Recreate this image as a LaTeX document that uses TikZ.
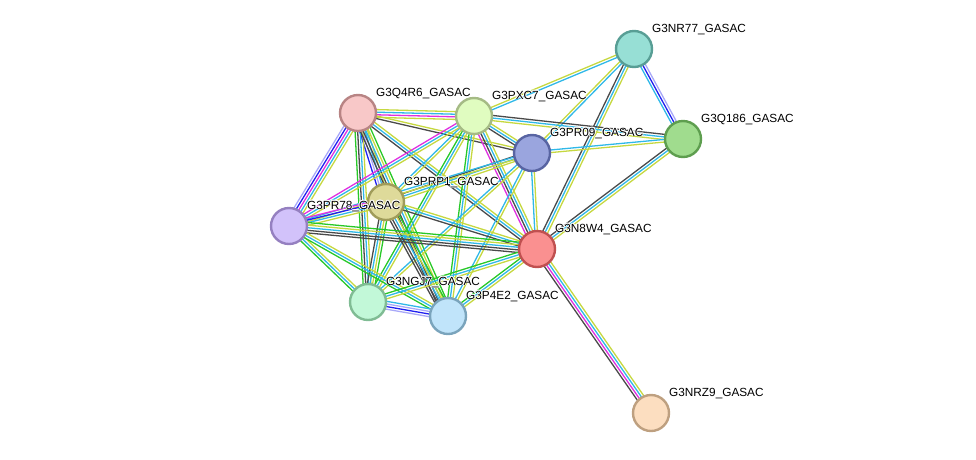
\documentclass[tikz,border=0pt]{standalone}
\usepackage{fontspec}
\setmainfont{Liberation Sans}
\usetikzlibrary{calc,backgrounds}
\definecolor{tm}{HTML}{C6D840}
\definecolor{db}{HTML}{30B8E8}
\definecolor{co}{HTML}{4A4A4A}
\definecolor{ex}{HTML}{E030E0}
\definecolor{nb}{HTML}{28C828}
\definecolor{cu}{HTML}{2020F0}
\definecolor{hm}{HTML}{A8A8F8}
\tikzset{
  prot/.style={circle, draw, line width=2.4pt, minimum size=36pt, inner sep=0pt},
  edgeline/.style={line width=1.3pt},
  lbl/.style={anchor=base west, inner sep=0pt, font=\fontsize{11.8}{13}\selectfont}
}
\newcommand{\stredge}[3]{%
  \gdef\nn{0}%
  \foreach \cc in {#3} {\xdef\nn{\the\numexpr\nn+1\relax}}%
  \foreach \cc [count=\ii] in {#3} {%
    \pgfmathsetmacro{\off}{(\ii-(\nn+1)/2)*2.6}%
    \draw[edgeline, \cc] ($(#1.center)!\off pt!90:(#2.center)$) -- ($(#2.center)!\off pt!-90:(#1.center)$);
  }%
}
\newcommand{\plabel}[3]{%
  \foreach \dx/\dy in {0.8/0,-0.8/0,0/0.8,0/-0.8,0.6/0.6,-0.6/0.6,0.6/-0.6,-0.6/-0.6}{%
    \node[lbl, text=white] at ($(#1.center)+(18+\dx,-17+\dy)$) {#3};}
  \node[lbl] (#2) at ($(#1.center)+(18,-17)$) {#3};
}
\begin{document}
\begin{tikzpicture}[x=1pt,y=-1pt]
\useasboundingbox (0,0) rectangle (976,459);
% nodes
\node[prot, fill={rgb,255:red,151;green,223;blue,213}, draw={rgb,255:red,88;green,158;blue,149}] (nr77) at (634,49) {};
\node[prot, fill={rgb,255:red,160;green,220;blue,142}, draw={rgb,255:red,94;green,158;blue,79}] (q186) at (683,139) {};
\node[prot, fill={rgb,255:red,248;green,200;blue,200}, draw={rgb,255:red,184;green,132;blue,132}] (q4r6) at (358,113) {};
\node[prot, fill={rgb,255:red,224;green,252;blue,192}, draw={rgb,255:red,165;green,187;blue,133}] (pxc7) at (474,116) {};
\node[prot, fill={rgb,255:red,154;green,165;blue,222}, draw={rgb,255:red,88;green,100;blue,162}] (pr09) at (532,153) {};
\node[prot, fill={rgb,255:red,222;green,218;blue,154}, draw={rgb,255:red,160;green,156;blue,90}] (prp1) at (386,202) {};
\node[prot, fill={rgb,255:red,210;green,194;blue,250}, draw={rgb,255:red,149;green,128;blue,192}] (pr78) at (289,226) {};
\node[prot, fill={rgb,255:red,250;green,144;blue,144}, draw={rgb,255:red,192;green,80;blue,80}] (n8w4) at (537,249) {};
\node[prot, fill={rgb,255:red,194;green,248;blue,216}, draw={rgb,255:red,128;green,188;blue,148}] (ngj7) at (368,302) {};
\node[prot, fill={rgb,255:red,192;green,228;blue,250}, draw={rgb,255:red,122;green,164;blue,188}] (p4e2) at (448,316) {};
\node[prot, fill={rgb,255:red,252;green,222;blue,192}, draw={rgb,255:red,190;green,160;blue,128}] (nrz9) at (651,413) {};
% edges
\begin{pgfonlayer}{background}
\stredge{nr77}{q186}{db,cu,hm}
\stredge{nr77}{pxc7}{tm,db}
\stredge{nr77}{pr09}{tm,db}
\stredge{nr77}{n8w4}{co,db,tm}
\stredge{q186}{pxc7}{co,db,tm}
\stredge{q186}{pr09}{db,tm}
\stredge{q186}{n8w4}{co,db,tm}
\stredge{n8w4}{nrz9}{co,ex,db,tm}
\stredge{q4r6}{pxc7}{tm,ex,db,tm}
\stredge{q4r6}{pr09}{co,tm}
\stredge{q4r6}{n8w4}{co,db,tm}
\stredge{q4r6}{pr78}{hm,cu,ex,db,tm}
\stredge{q4r6}{prp1}{cu,hm,db,tm}
\stredge{q4r6}{ngj7}{nb,co,db,tm}
\stredge{q4r6}{p4e2}{co,co,db,tm,nb}
\stredge{pxc7}{pr09}{co,db,tm}
\stredge{pxc7}{prp1}{db,tm}
\stredge{pxc7}{pr78}{ex,db,tm}
\stredge{pxc7}{n8w4}{ex,co,db,tm}
\stredge{pxc7}{ngj7}{nb,db,tm}
\stredge{pxc7}{p4e2}{nb,db,tm}
\stredge{pr09}{prp1}{co,db,tm}
\stredge{pr09}{pr78}{db,tm}
\stredge{pr09}{n8w4}{db,tm}
\stredge{pr09}{ngj7}{db,tm}
\stredge{pr09}{p4e2}{db,tm}
\stredge{prp1}{pr78}{ex,cu,db,tm}
\stredge{prp1}{n8w4}{co,db,tm}
\stredge{prp1}{ngj7}{co,db,tm,nb}
\stredge{prp1}{p4e2}{co,co,db,tm,nb}
\stredge{pr78}{n8w4}{co,co,db,tm,nb}
\stredge{pr78}{ngj7}{nb,db,tm}
\stredge{pr78}{p4e2}{nb,db,tm}
\stredge{n8w4}{ngj7}{nb,db,tm}
\stredge{n8w4}{p4e2}{nb,db,tm}
\stredge{ngj7}{p4e2}{hm,cu,hm,db}
\end{pgfonlayer}
% labels
\plabel{nr77}{l-nr77}{G3NR77\_GASAC}
\plabel{q186}{l-q186}{G3Q186\_GASAC}
\plabel{q4r6}{l-q4r6}{G3Q4R6\_GASAC}
\plabel{pxc7}{l-pxc7}{G3PXC7\_GASAC}
\plabel{pr09}{l-pr09}{G3PR09\_GASAC}
\plabel{prp1}{l-prp1}{G3PRP1\_GASAC}
\plabel{pr78}{l-pr78}{G3PR78\_GASAC}
\plabel{n8w4}{l-n8w4}{G3N8W4\_GASAC}
\plabel{ngj7}{l-ngj7}{G3NGJ7\_GASAC}
\plabel{p4e2}{l-p4e2}{G3P4E2\_GASAC}
\plabel{nrz9}{l-nrz9}{G3NRZ9\_GASAC}
\end{tikzpicture}
\end{document}
